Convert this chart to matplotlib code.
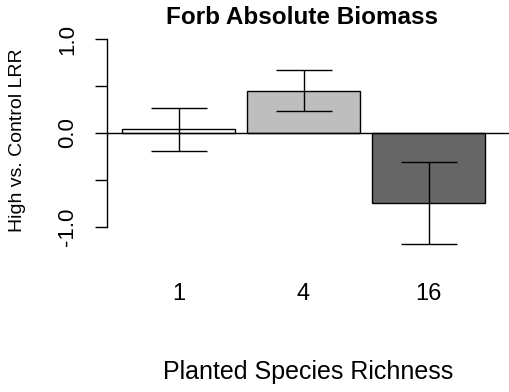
import matplotlib
matplotlib.use("Agg")
import matplotlib.pyplot as plt

plt.rcParams['font.family'] = ['Liberation Sans', 'DejaVu Sans']

# forb biomass log response ratios by planted richness
richness = ['1', '4', '16']
lrr = [0.04, 0.45, -0.745]
err = [0.23, 0.22, 0.44]
fills = ['#FFFFFF', '#BEBEBE', '#666666']

W, H = 509, 392
fig = plt.figure(figsize=(W / 100, H / 100), dpi=100)

# plot region in pixels: left 107, right 509, top 30, bottom 250
ax = fig.add_axes([107 / W, 1 - 250 / H, (W - 107) / W, 220 / H])

x = list(range(len(lrr)))
ax.bar(x, lrr, width=0.9, color=fills, edgecolor='black', linewidth=1.0)
ax.errorbar(x, lrr, yerr=err, fmt='none', ecolor='black', elinewidth=1.0,
            capsize=20.5, capthick=1.0)
ax.axhline(0, color='black', linewidth=1.0)

ax.set_xlim(-0.572, 2.644)
ax.set_ylim(-1.245, 1.096)

for s in ['top', 'right', 'bottom']:
    ax.spines[s].set_visible(False)
ax.spines['left'].set_bounds(-1, 1)
ax.spines['left'].set_linewidth(1.0)

ax.set_yticks([-1.0, -0.5, 0.0, 0.5, 1.0])
ax.set_yticklabels(['-1.0', '', '0.0', '', '1.0'], rotation=90, va='center')
ax.tick_params(axis='y', length=8.6, width=1.0, pad=12, labelsize=16)

ax.set_xticks(x)
ax.set_xticklabels(richness)
ax.tick_params(axis='x', length=0, pad=24, labelsize=17)

fig.text(302 / W, 1 - 18 / H, 'Forb Absolute Biomass', ha='center',
         va='center', fontsize=17.5, fontweight='bold')
fig.text(308 / W, 1 - 372 / H, 'Planted Species Richness', ha='center',
         va='center', fontsize=18)
fig.text(18 / W, 1 - 140 / H, 'High vs. Control LRR', ha='center',
         va='center', rotation=90, fontsize=14)

fig.savefig('out.png', dpi=100)
